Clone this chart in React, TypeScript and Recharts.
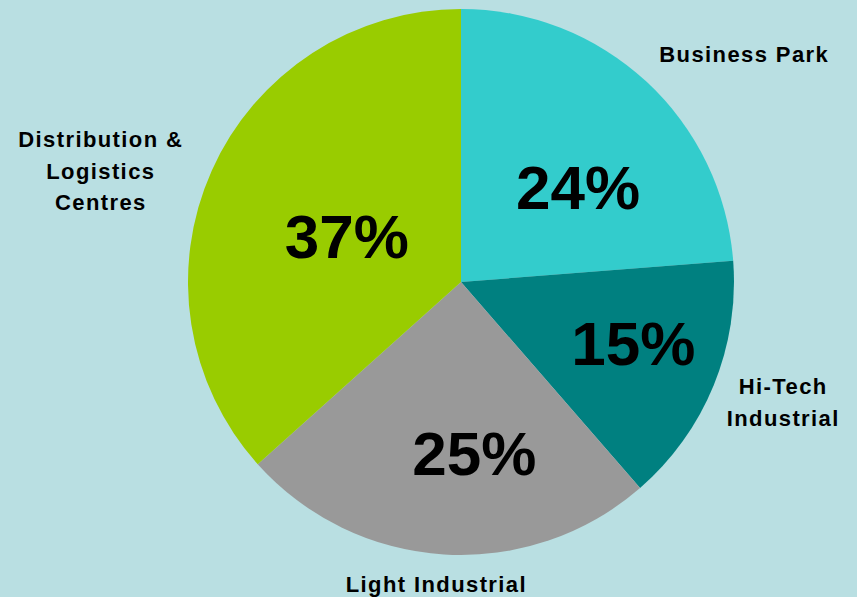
import React from "react";
import { PieChart, Pie, Cell } from "recharts";

const categories = ["Business Park", "Hi-Tech Industrial", "Light Industrial", "Distribution & Logistics Centres"];
const categoryLines = [["Business Park"], ["Hi-Tech", "Industrial"], ["Light Industrial"], ["Distribution &", "Logistics", "Centres"]];
const shares = [24, 15, 25, 37];
const colors = ["#33CCCC", "#008080", "#999999", "#99CC00"];

// label layout tweaks (radius factor, angle offset in degrees)
const pctLayout = [
  { rf: 0.55, da: -8.4 },
  { rf: 0.67, da: 2.7 },
  { rf: 0.63, da: 8 },
  { rf: 0.45, da: 2.5 },
];
const catLayout = [
  { rf: 1.33, da: -8.5 },
  { rf: 1.26, da: 1.8 },
  { rf: 1.11, da: -1.1 },
  { rf: 1.38, da: 7 },
];

const data = categories.map((name, i) => ({ name, value: shares[i] }));
const RAD = Math.PI / 180;

const renderLabel = (props: any) => {
  const { cx, cy, outerRadius, midAngle, index, value } = props;
  const p = pctLayout[index];
  const c = catLayout[index];
  const pa = (midAngle + p.da) * RAD;
  const ca = (midAngle + c.da) * RAD;
  const px = cx + outerRadius * p.rf * Math.cos(pa);
  const py = cy - outerRadius * p.rf * Math.sin(pa);
  const lx = cx + outerRadius * c.rf * Math.cos(ca);
  const ly = cy - outerRadius * c.rf * Math.sin(ca);
  const lines = categoryLines[index];
  const lh = 31.5;
  const y0 = ly - ((lines.length - 1) * lh) / 2;
  return (
    <g key={`lbl-${index}`}>
      <text
        x={px}
        y={py}
        textAnchor="middle"
        dominantBaseline="central"
        fill="#000"
        fontFamily="'Liberation Sans', Arial, sans-serif"
        fontWeight="bold"
        fontSize={62}
      >
        {`${value}%`}
      </text>
      <text
        textAnchor="middle"
        fill="#000"
        fontFamily="'Liberation Sans', Arial, sans-serif"
        fontWeight="bold"
        fontSize={22}
        letterSpacing={1.4}
      >
        {lines.map((t, k) => (
          <tspan key={k} x={lx} y={y0 + k * lh} dominantBaseline="central">
            {t}
          </tspan>
        ))}
      </text>
    </g>
  );
};

export default function App() {
  return (
    <div style={{ position: "fixed", top: 0, left: 0, width: 857, height: 597, background: "#B9DFE2" }}>
      <PieChart width={857} height={597} margin={{ top: 0, right: 0, bottom: 0, left: 0 }}>
        <Pie
          data={data}
          dataKey="value"
          nameKey="name"
          cx={461}
          cy={282}
          outerRadius={273}
          startAngle={90}
          endAngle={-270}
          stroke="none"
          label={renderLabel}
          labelLine={false}
          isAnimationActive={false}
        >
          {data.map((d, i) => (
            <Cell key={d.name} fill={colors[i]} />
          ))}
        </Pie>
      </PieChart>
    </div>
  );
}
